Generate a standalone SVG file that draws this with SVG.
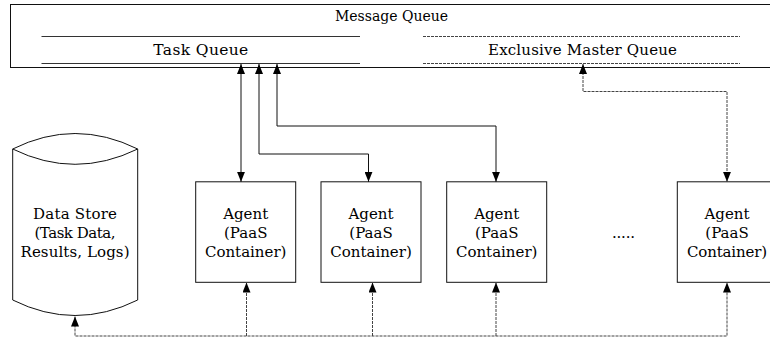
<svg xmlns="http://www.w3.org/2000/svg" width="770" height="339" viewBox="0 0 770 339">
<style>
text{font-family:"DejaVu Serif","Liberation Serif",serif;font-size:15px;fill:#000;text-anchor:middle}
.box{fill:#fff;stroke:#111;stroke-width:1}
.qline{stroke:#333;stroke-width:1;fill:none}
.qdash{stroke:#444;stroke-width:1;fill:none;stroke-dasharray:3,1}
.c{stroke:#111;stroke-width:1;fill:none;marker-end:url(#ah)}
.c2{stroke:#111;stroke-width:1;fill:none;marker-start:url(#ah);marker-end:url(#ah)}
.d{stroke:#444;stroke-width:1;fill:none;stroke-dasharray:3,1;marker-end:url(#ah)}
.d2{stroke:#444;stroke-width:1;fill:none;stroke-dasharray:3,1;marker-start:url(#ah);marker-end:url(#ah)}
</style>
<defs>
<marker id="ah" markerUnits="userSpaceOnUse" markerWidth="10" markerHeight="8" refX="10" refY="4" orient="auto-start-reverse" viewBox="0 0 10 8">
<path d="M0,0 L10,4 L0,8 z" fill="#000"/>
</marker>
</defs>
<g id="message-queue">
<rect class="box" x="10.5" y="4.5" width="770" height="63"/>
<text x="391.5" y="20.5" style="font-size:14px">Message Queue</text>
</g>
<g id="task-queue">
<line class="qline" x1="41.5" y1="36.5" x2="360" y2="36.5"/>
<line class="qline" x1="41.5" y1="63.5" x2="360" y2="63.5"/>
<text x="200.8" y="55" style="font-size:15.5px" textLength="95">Task Queue</text>
</g>
<g id="exclusive-master-queue">
<line class="qdash" x1="423" y1="36.5" x2="740" y2="36.5"/>
<line class="qdash" x1="423" y1="63.5" x2="740" y2="63.5"/>
<text x="582.5" y="55" textLength="189">Exclusive Master Queue</text>
</g>
<g id="data-store">
<path class="box" d="M12.7,149 Q75,118 137.7,149 L137.7,300 Q75,331 12.7,300 Z"/>
<path class="qline" style="stroke:#111" d="M12.7,149 Q75,179.6 137.7,149"/>
<text x="75" y="218.5" textLength="84">Data Store</text>
<text x="75" y="237.5" textLength="81">(Task Data,</text>
<text x="75" y="256.5" textLength="109">Results, Logs)</text>
</g>
<g id="agent-1">
<rect class="box" x="195.7" y="181.8" width="100" height="100.5"/>
<text x="245.7" y="218.5">Agent</text>
<text x="245.7" y="237.5">(PaaS</text>
<text x="245.7" y="256.5">Container)</text>
</g>
<g id="agent-2">
<rect class="box" x="321" y="181.8" width="100" height="100.5"/>
<text x="371" y="218.5">Agent</text>
<text x="371" y="237.5">(PaaS</text>
<text x="371" y="256.5">Container)</text>
</g>
<g id="agent-3">
<rect class="box" x="446.7" y="181.8" width="100" height="100.5"/>
<text x="496.7" y="218.5">Agent</text>
<text x="496.7" y="237.5">(PaaS</text>
<text x="496.7" y="256.5">Container)</text>
</g>
<g id="ellipsis">
<text x="623.5" y="238" textLength="23">.....</text>
</g>
<g id="agent-4">
<rect class="box" x="677.3" y="181.8" width="100" height="100.5"/>
<text x="727" y="218.5">Agent</text>
<text x="727" y="237.5">(PaaS</text>
<text x="727" y="256.5" textLength="80">Container)</text>
</g>
<g id="connectors">
<path class="c2" d="M241,64 V181.8"/>
<path class="c2" d="M259,64 V154 H368.5 V181.8"/>
<path class="c2" d="M277,64 V126 H496 V181.8"/>
<path class="d2" d="M583,64 V91.5 H727 V181.8"/>
<path class="d2" d="M75,316.5 V336 H727 V282.5"/>
<path class="d" d="M246.5,336 V282.5"/>
<path class="d" d="M372.5,336 V282.5"/>
<path class="d" d="M496,336 V282.5"/>
</g>
</svg>
